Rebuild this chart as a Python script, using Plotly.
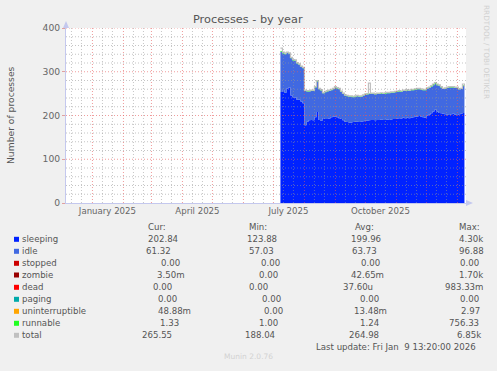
import plotly.graph_objects as go
import pandas as pd

# ---------------- data ----------------
start_date = "2025-07-08"          # first day with data, one value every 2 days
sleeping = [254, 258, 252, 262, 264, 246, 242, 241, 236, 236, 232, 228, 178, 186, 189, 190,
            189, 196, 208, 190, 188, 194, 192, 192, 193, 196, 197, 198, 196, 194, 192, 189,
            186, 185, 184, 184, 185, 186, 186, 185, 186, 187, 188, 188, 189, 190, 190, 189,
            190, 190, 191, 190, 190, 191, 190, 191, 192, 192, 193, 194, 193, 195, 194, 195,
            194, 195, 196, 197, 198, 199, 197, 196, 195, 200, 202, 205, 209, 213, 209, 206,
            205, 204, 203, 202, 201, 203, 204, 202, 201, 203, 204, 206, 203]
idle = [92, 84, 88, 81, 77, 85, 84, 84, 83, 80, 79, 80, 78, 69, 66, 66,
        67, 68, 70, 70, 69, 57, 61, 63, 63, 62, 63, 66, 66, 66, 62, 60,
        59, 59, 59, 59, 57, 57, 58, 58, 57, 58, 59, 60, 60, 59, 59, 59,
        59, 59, 59, 59, 60, 60, 61, 61, 60, 61, 61, 61, 61, 61, 62, 62,
        62, 63, 62, 62, 62, 61, 62, 62, 63, 62, 61, 61, 60, 59, 60, 62,
        59, 57, 58, 61, 63, 61, 60, 61, 62, 57, 57, 62, 61]
runnable = [1.3, 1.2, 1.4, 1.2, 1.3, 1.2, 1.1, 1.2, 1.3, 1.2, 1.2, 1.4, 1.3, 1.2, 1.1, 1.2,
            1.2, 1.3, 1.4, 1.2, 1.2, 1.1, 1.2, 1.2, 1.3, 1.2, 1.2, 1.3, 1.2, 1.2, 1.1, 1.2,
            1.2, 1.1, 1.2, 1.2, 1.3, 1.2, 1.2, 1.1, 1.2, 1.2, 2.6, 1.3, 1.2, 1.2, 1.1, 1.2,
            1.2, 1.2, 1.3, 1.2, 1.2, 1.2, 1.1, 1.2, 1.2, 1.3, 1.2, 1.2, 1.2, 1.3, 1.2, 1.2,
            1.1, 1.2, 1.2, 1.3, 1.2, 1.2, 1.2, 1.1, 1.2, 1.2, 1.3, 2.4, 2.8, 3.1, 2.6, 1.4,
            1.2, 1.2, 1.3, 1.2, 1.2, 1.3, 1.2, 1.2, 1.2, 2.5, 1.2, 1.3, 1.3]
total = [354, 345, 343, 345, 343, 333, 328, 327, 321, 318, 313, 310, 258, 257, 257, 258,
         258, 266, 280, 262, 259, 252, 255, 257, 258, 260, 262, 266, 264, 262, 256, 251,
         247, 246, 245, 245, 244, 245, 246, 245, 245, 247, 249, 250, 274, 251, 251, 250,
         251, 251, 252, 251, 252, 253, 253, 254, 254, 255, 256, 257, 256, 258, 258, 259,
         258, 260, 260, 261, 262, 262, 261, 260, 260, 263, 265, 268, 272, 275, 272, 270,
         266, 262, 263, 265, 266, 266, 266, 265, 265, 261, 262, 272, 265]

legend_names = ["sleeping", "idle", "stopped", "zombie", "dead", "paging",
                "uninterruptible", "runnable", "total"]
legend_colors = ["#0022ff", "#4169e1", "#cc0000", "#990000", "#ff0000", "#00aaaa",
                 "#ffa500", "#22ff22", "#c0c0c0"]
cur_vals = ["202.84", "61.32", "0.00", "3.50m", "0.00", "0.00", "48.88m", "1.33", "265.55"]
min_vals = ["123.88", "57.03", "0.00", "0.00", "0.00", "0.00", "0.00", "1.00", "188.04"]
avg_vals = ["199.96", "63.73", "0.00", "42.65m", "37.60u", "0.00", "13.48m", "1.24", "264.98"]
max_vals = ["4.30k", "96.88", "0.00", "1.70k", "983.33m", "0.00", "2.97", "756.33", "6.85k"]

x_start = "2024-12-05 13:20"
x_end = "2026-01-09 13:20"
x_label_dates = ["2025-01-16", "2025-04-16", "2025-07-16", "2025-10-16"]
x_label_text = ["January 2025", "April 2025", "July 2025", "October 2025"]

# ---------------- geometry helpers ----------------
W, H = 497, 371
L, R, T, B = 66, 466, 28, 203


def pxx(x):
    return (x - L) / (R - L)


def pxy(y):
    return (B - y) / (B - T)


dates = pd.date_range(start_date, periods=len(sleeping), freq="2D")

FONT = "DejaVu Sans"
FS = 8.6
TXT = "#555555"

fig = go.Figure()
fig.add_trace(go.Scatter(x=dates, y=sleeping, stackgroup="s", mode="lines",
                         line=dict(width=0, shape="hv"), fillcolor="#0022ff",
                         name="sleeping", hoverinfo="skip"))
fig.add_trace(go.Scatter(x=dates, y=idle, stackgroup="s", mode="lines",
                         line=dict(width=0, shape="hv"), fillcolor="#4169e1",
                         name="idle", hoverinfo="skip"))
fig.add_trace(go.Scatter(x=dates, y=runnable, stackgroup="s", mode="lines",
                         line=dict(width=0, shape="hv"), fillcolor="#22ff22",
                         name="runnable", hoverinfo="skip"))
fig.add_trace(go.Scatter(x=dates, y=total, mode="lines",
                         line=dict(width=1.2, color="#c0c0c0", shape="hv"),
                         name="total", hoverinfo="skip"))

shapes = []
MINOR = "rgba(150,150,150,0.55)"
MAJOR = "rgba(230,90,90,0.6)"
DOT = "1px,2px"

# horizontal grid
for v in range(0, 401, 20):
    if v % 100 == 0:
        continue
    shapes.append(dict(type="line", xref="paper", yref="y", x0=0, x1=1, y0=v, y1=v,
                       line=dict(color=MINOR, width=1, dash=DOT), layer="above"))
for v in range(100, 401, 100):
    shapes.append(dict(type="line", xref="paper", yref="y", x0=0, x1=1, y0=v, y1=v,
                       line=dict(color=MAJOR, width=1, dash=DOT), layer="above"))

# vertical grid: month starts (major) and 11th / 21st (minor)
for m in pd.date_range("2024-12-01", "2026-01-31", freq="MS"):
    for d in (11, 21):
        dd = m + pd.Timedelta(days=d - 1)
        if pd.Timestamp(x_start) < dd < pd.Timestamp(x_end):
            shapes.append(dict(type="line", xref="x", yref="paper", x0=dd, x1=dd, y0=0, y1=1,
                               line=dict(color=MINOR, width=1, dash=DOT), layer="above"))
    if pd.Timestamp(x_start) < m < pd.Timestamp(x_end):
        shapes.append(dict(type="line", xref="x", yref="paper", x0=m, x1=m, y0=0, y1=1,
                           line=dict(color=MAJOR, width=1, dash=DOT), layer="above"))

AX = "#c4c8ee"
# axis arrows
shapes.append(dict(type="path", xref="paper", yref="paper",
                   path=f"M {pxx(63)} {pxy(28)} L {pxx(69)} {pxy(28)} L {pxx(66)} {pxy(21)} Z",
                   fillcolor=AX, line=dict(width=0), layer="above"))
shapes.append(dict(type="path", xref="paper", yref="paper",
                   path=f"M {pxx(466)} {pxy(200)} L {pxx(466)} {pxy(206)} L {pxx(473)} {pxy(203)} Z",
                   fillcolor=AX, line=dict(width=0), layer="above"))

annotations = []


def text(x, y, s, size=FS, color=TXT, xanchor="left", **kw):
    annotations.append(dict(x=pxx(x), y=pxy(y), xref="paper", yref="paper", text=s,
                            showarrow=False, xanchor=xanchor, yanchor="middle",
                            font=dict(family=FONT, size=size, color=color), **kw))


text(248, 19, "Processes - by year", size=11.3, color="#555555", xanchor="center")
text(10, 115, "Number of processes", size=9.2, xanchor="center", textangle=-90)
text(487, 52, "RRDTOOL / TOBI OETIKER", size=7.3, color="#d0d0d0", xanchor="center",
     textangle=90)

# legend table
row_y = [239.3, 251.3, 263.3, 275, 287.3, 299.3, 311.3, 323.3, 335.3]
cur_x = [145.7, 144, 159.3, 155, 150.7, 156, 155.7, 158.3, 140]
min_x = [245, 247, 259.3, 257.3, 247, 260, 262.3, 257.3, 243]
avg_x = [349.3, 350, 359, 349.3, 340.7, 358.3, 351.7, 358.3, 346.7]
max_x = [456.7, 456.7, 458.3, 456.7, 443.3, 458.3, 459.3, 447.3, 455]

text(145.7, 226.7, "Cur:")
text(247, 226.7, "Min:")
text(353.3, 226.7, "Avg:")
text(457.3, 226.7, "Max:")
for i, name in enumerate(legend_names):
    y = row_y[i]
    shapes.append(dict(type="rect", xref="paper", yref="paper",
                       x0=pxx(14), x1=pxx(19), y0=pxy(y + 2.5), y1=pxy(y - 2.5),
                       fillcolor=legend_colors[i], line=dict(width=0)))
    text(20.3, y, name)
    text(cur_x[i], y, cur_vals[i])
    text(min_x[i], y, min_vals[i])
    text(avg_x[i], y, avg_vals[i])
    text(max_x[i], y, max_vals[i])

text(314, 347.3, "Last update: Fri Jan&nbsp; 9 13:20:00 2026")
text(248, 356, "Munin 2.0.76", size=7.5, color="#d2d2d2", xanchor="center")

fig.update_layout(
    width=W, height=H,
    margin=dict(l=L, r=W - R, t=T, b=H - B, pad=0),
    paper_bgcolor="#f0f0f0", plot_bgcolor="#ffffff",
    showlegend=False,
    font=dict(family=FONT, size=FS, color=TXT),
    shapes=shapes, annotations=annotations,
    xaxis=dict(type="date", range=[x_start, x_end], showgrid=False, zeroline=False,
               tickvals=x_label_dates, ticktext=x_label_text, ticks="",
               tickfont=dict(family=FONT, size=FS, color="#666666"),
               showline=True, linecolor=AX, linewidth=1, fixedrange=True),
    yaxis=dict(range=[0, 400], tickvals=[0, 100, 200, 300, 400], showgrid=False,
               zeroline=False, ticks="outside", ticklen=3, tickcolor="#e0a0a0",
               tickfont=dict(family=FONT, size=9.2, color="#666666"),
               showline=True, linecolor=AX, linewidth=1, fixedrange=True),
)

fig.write_html("out.html", config={"displayModeBar": False},
               post_script="document.body.style.margin='0px';")
